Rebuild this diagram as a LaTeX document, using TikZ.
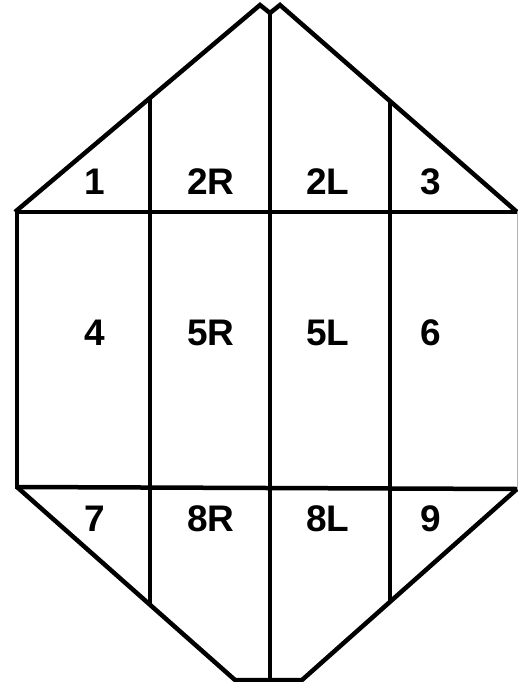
\documentclass[tikz,border=0pt]{standalone}
\usepackage{fontspec}
\setmainfont{Liberation Sans}
\tikzset{
    edge/.style={line width=4.5pt, line join=miter},
    rim/.style={line width=1pt, gray!60},
    patch/.style={font=\fontsize{37}{40}\selectfont\bfseries, inner sep=0pt}
}

\begin{document}
\begin{tikzpicture}[x=1pt,y=-1pt]
\useasboundingbox (0,0) rectangle (518,682);

% Top roof
\draw[edge] (15,212) -- (260,5) -- (270,13) -- (280,5) -- (517,212);

% Bottom
\draw[edge] (17,487) -- (235,680) -- (302,680) -- (517,489);

% Middle band
\draw[edge] (15,212) -- (517,212);
\draw[edge] (17,487) -- (517,489);
\draw[edge] (17,210) -- (17,489);
\draw[rim] (517,212) -- (517,489);

% Seams
\draw[edge] (150,98) -- (150,605);
\draw[edge] (270,13) -- (270,680);
\draw[edge] (390,101) -- (390,603);

% Top row
\node[patch] (p1) at (95,182) {1};
\node[patch] (p2R) at (211,182) {2R};
\node[patch] (p2L) at (328,182) {2L};
\node[patch] (p3) at (431,182) {3};

% Middle row
\node[patch] (p4) at (95,333) {4};
\node[patch] (p5R) at (211,333) {5R};
\node[patch] (p5L) at (328,333) {5L};
\node[patch] (p6) at (431,333) {6};

% Bottom row
\node[patch] (p7) at (95,519) {7};
\node[patch] (p8R) at (211,519) {8R};
\node[patch] (p8L) at (328,519) {8L};
\node[patch] (p9) at (431,519) {9};
\end{tikzpicture}
\end{document}
